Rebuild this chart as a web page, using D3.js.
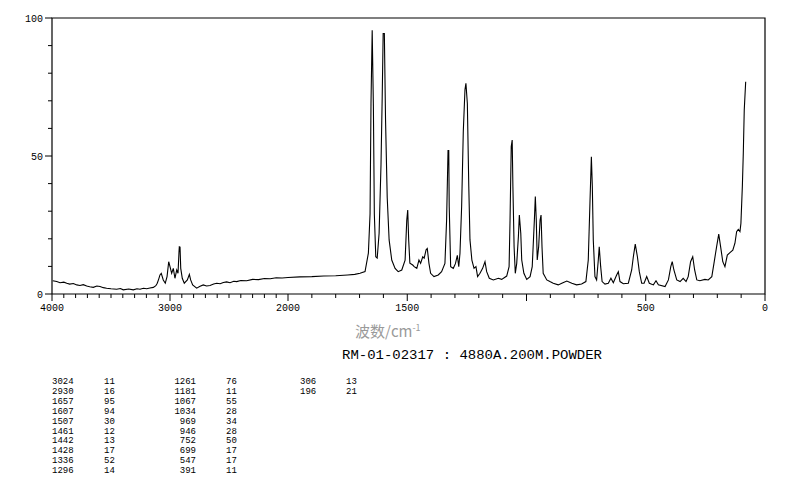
<!DOCTYPE html>
<html><head><meta charset="utf-8">
<script src="https://cdn.jsdelivr.net/npm/d3@7"></script>
<style>
html,body{margin:0;padding:0;background:#fff;}
svg{display:block;}
.mono{font-family:"Liberation Mono","DejaVu Sans Mono",monospace;}
</style></head>
<body>
<svg id="c" width="794" height="482"></svg>
<script>
// ---- data ----
const wavenumbers = [
3994,3960,3932,3900,3875,3850,3819,3790,3763,3735,3706,3680,3650,3620,3593,3565,3537,3500,3452,3420,3396,3350,3311,3280,3254,3225,3197,3170,3141,3120,3108,3095,3085,3074,3057,3040,3025,3011,3000,2986,2972,2958,2943,2932,2924,2921,2915,2909,2896,2879,2853,2836,2825,2808,2774,2745,2718,2690,2661,2630,2604,2575,2548,2520,2491,2460,2435,2400,2350,2300,2250,2200,2150,2100,2050,2000,
1950,1900,1850,1800,1750,1720,1698,1677,1663,1656,1652,1647,1642,1638,1632,1626,1618,1610,1605,1601,1596,1591,1584,1576,1565,1551,1538,1523,1509,1502,1498,1494,1489,1477,1471,1460,1451,1444,1435,1429,1421,1416,1409,1402,1388,1370,1356,1342,1335,1329,1326,1324,1318,1307,1298,1290,1284,1279,1272,1265,1258,1254,1248,1242,1237,1229,1220,1212,1205,1195,1184,1174,1167,1156,1139,1118,1104,1083,1073,1069,1064,1060,1057,1052,1047,1041,1034,1030,1024,1020,1011,999,985,976,967,963,959,955,949,943,939,935,930,915,902,888,867,852,831,810,790,769,751,741,734,728,724,720,713,706,699,695,689,683,671,657,646,636,622,615,608,594,573,559,552,544,535,527,517,507,496,485,468,457,447,419,405,395,389,382,370,356,343,331,322,312,303,295,286,273,252,238,223,214,203,194,186,177,168,158,147,135,126,119,112,105,101,95,91,87,81];
const intensity = [
4.8,4.5,4.1,4.3,3.9,3.6,3.8,3.3,3.1,3.4,2.9,2.6,2.4,2.9,2.7,2.3,2.1,1.9,1.7,2.0,1.5,1.8,1.5,1.9,1.7,2.1,1.9,2.2,2.4,3.0,3.9,5.5,6.9,7.5,5.1,3.9,6.3,11.7,9.9,7.5,9.3,5.7,8.7,7.5,15,17.1,17,9.3,5.7,3.9,5.1,7.1,5.1,3.3,2.1,2.8,3.3,2.9,3.1,3.6,3.9,3.7,4.2,4.4,4.1,4.6,4.5,4.9,4.8,5.3,5.2,5.6,5.5,5.9,5.8,6.0,
6.2,6.3,6.5,6.6,6.9,7.1,7.5,8.1,14.8,29,69,95.6,68,29,13.5,13,22,47,71.5,94.4,94.4,63,35,19.6,12.3,9.3,8.1,8.7,12.3,26.8,30.4,19.6,11.2,10.5,9.9,9.3,12.3,11.1,13.5,13,16,16.5,11.1,7.5,6.3,6.9,8.1,11.1,26.8,52,52,31.6,9.9,9.3,11,14,9.9,14.7,31.6,59,74,76.3,69,39,19.6,12.3,9.3,9.9,6.3,7.5,9.3,11.7,8.1,5.7,5.1,5.7,5.3,6.5,9.9,26.8,53.4,55.8,38.9,17.1,7.5,11.1,20.8,28.6,22,12.3,7.5,5.3,6.3,9.9,26.8,35.3,26.8,12.3,17.1,26.8,28.6,17.1,7.5,5.1,4.5,3.9,3.3,3.9,4.7,3.9,3.3,3.6,4.5,12.3,32.9,49.7,38.9,19.6,6.3,5.1,12.3,17.1,9.9,4.5,3.6,3.9,5.7,4.1,6.9,8.1,4.5,3.7,3.9,8.7,13.5,18.1,13.5,8.1,3.9,3.9,6.3,3.9,3.3,4.8,3.3,2.7,5.1,9.9,11.7,8.7,5.1,4.5,5.7,4.5,6.3,11.7,13.5,8.7,5.1,4.8,5.3,5.1,6.3,11.1,17.1,21.7,17.1,11.7,9.9,14.1,15,15.9,18.4,22.6,23.4,22.6,25.6,38.9,51,66.7,76.9];

const xMajorTicks = [4000,3000,2000,1500,1000,500,0];
const xTickLabels = ["4000","3000","2000","1500","","500","0"];
const yTickValues = [0,10,20,30,40,50,60,70,80,90,100];
const yTickLabels = ["0","","","","","50","","","","","100"];

const peakWn1 = ["3024","2930","1657","1607","1507","1461","1442","1428","1336","1296"];
const peakInt1 = ["11","16","95","94","30","12","13","17","52","14"];
const peakWn2 = ["1261","1181","1067","1034","969","946","752","699","547","391"];
const peakInt2 = ["76","11","55","28","34","28","50","17","17","11"];
const peakWn3 = ["306","196"];
const peakInt3 = ["13","21"];

const xTitle = "波数/cm";
const xTitleSup = "-1";
const sampleTitle = "RM-01-02317 : 4880A.200M.POWDER";

// ---- drawing ----
const svg = d3.select("#c");
const x = d3.scaleLinear().domain([4000,2000,0]).range([52,288,765]);
const y = d3.scaleLinear().domain([0,100]).range([294,18]);

// frame
svg.append("path").attr("fill","none").attr("stroke","#000").attr("stroke-width",1.2)
  .attr("d",`M${x(4000)},${y(0)}V${y(100)}H${x(0)}V${y(0)}H${x(4000)}`);

// x ticks
const minor = d3.range(4000,-1,-100);
svg.append("g").selectAll("line").data(minor).join("line")
  .attr("x1",d=>x(d)).attr("x2",d=>x(d))
  .attr("y1",y(0)).attr("y2",d=>y(0)+(xMajorTicks.includes(d)?7:4))
  .attr("stroke","#000").attr("stroke-width",1);
svg.append("g").selectAll("text").data(xMajorTicks).join("text")
  .attr("class","mono").attr("x",d=>x(d)).attr("y",y(0)+17)
  .attr("text-anchor","middle").attr("font-size",10).attr("fill","#000")
  .text((d,i)=>xTickLabels[i]);

// y ticks
svg.append("g").selectAll("line").data(yTickValues).join("line")
  .attr("x1",d=>x(4000)-((d%50===0)?7:4)).attr("x2",x(4000))
  .attr("y1",d=>y(d)).attr("y2",d=>y(d))
  .attr("stroke","#000").attr("stroke-width",1);
svg.append("g").selectAll("text").data(yTickValues).join("text")
  .attr("class","mono").attr("x",x(4000)-9).attr("y",d=>y(d)+3.5)
  .attr("text-anchor","end").attr("font-size",10).attr("fill","#000")
  .text((d,i)=>yTickLabels[i]);

// spectrum
const pts = wavenumbers.map((w,i)=>[w,intensity[i]]);
svg.append("path").datum(pts)
  .attr("fill","none").attr("stroke","#000").attr("stroke-width",1.1)
  .attr("d",d3.line().x(d=>x(d[0])).y(d=>y(d[1])));

// axis title
const t = svg.append("text").attr("x",355).attr("y",337)
  .attr("font-family","'Noto Sans CJK SC','Noto Sans CJK JP',sans-serif")
  .attr("font-size",15).attr("fill","#9a9a9a");
t.append("tspan").text(xTitle);
t.append("tspan").attr("font-size",9).attr("dy",-6).text(xTitleSup);

svg.append("text").attr("class","mono").attr("x",342).attr("y",359)
  .attr("font-size",13).attr("textLength",260).attr("lengthAdjust","spacingAndGlyphs")
  .attr("fill","#000").text(sampleTitle);

// peak table
const rowY = i => 384 + i*9.9;
function col(arr, xp, anchor){
  svg.append("g").selectAll("text").data(arr).join("text")
    .attr("class","mono").attr("x",xp).attr("y",(d,i)=>rowY(i))
    .attr("text-anchor",anchor).attr("font-size",9).attr("fill","#000")
    .text(d=>d);
}
col(peakWn1,52,"start");
col(peakInt1,104,"start");
col(peakWn2,196,"end");
col(peakInt2,226,"start");
col(peakWn3,300,"start");
col(peakInt3,346,"start");
</script>
</body></html>
